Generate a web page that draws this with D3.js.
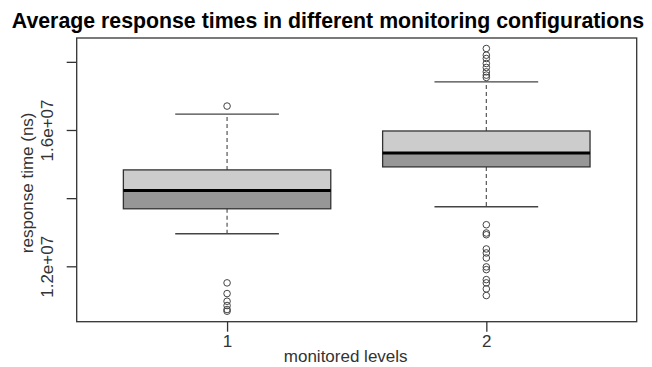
<!DOCTYPE html>
<html><head><meta charset="utf-8">
<script src="https://cdn.jsdelivr.net/npm/d3@7"></script>
<style>body{margin:0;background:#fff}svg{display:block}text{font-family:"Liberation Sans",Arial,sans-serif}</style>
</head><body><svg id="c" width="652" height="367"></svg>
<script>
const categories = ["1", "2"];
const lowerWhisker = [1.2956e7, 1.3747e7];
const q1 = [1.3688e7, 1.4917e7];
const medians = [1.4224e7, 1.5327e7];
const q3 = [1.4829e7, 1.5971e7];
const upperWhisker = [1.6468e7, 1.7414e7];
const outliers1 = [1.6702e7, 1.1514e7, 1.1200e7, 1.0975e7, 1.0849e7, 1.0732e7, 1.0683e7];
const outliers2 = [1.8391e7, 1.8195e7, 1.8098e7, 1.7952e7, 1.7835e7, 1.7706e7, 1.7610e7, 1.7542e7,
  1.3220e7, 1.2977e7, 1.2927e7, 1.2509e7, 1.2392e7, 1.2245e7, 1.1982e7, 1.1903e7, 1.1610e7, 1.1514e7, 1.1338e7, 1.1142e7];
const yTicks = [1.2e7, 1.4e7, 1.6e7, 1.8e7];
const yTickLabels = ["1.2e+07", "", "1.6e+07", ""];
const title = "Average response times in different monitoring configurations";
const xTitle = "monitored levels";
const yTitle = "response time (ns)";

const outliers = [outliers1, outliers2];
const svg = d3.select("#c");
const L = 76.7, R = 636.7, T = 38, B = 321.7;
const all = [].concat(lowerWhisker, upperWhisker, outliers1, outliers2);
const ext = d3.extent(all);
const pad = (ext[1] - ext[0]) * 0.04;
const y = d3.scaleLinear().domain([ext[0] - pad, ext[1] + pad]).range([B, T]);
const x = d3.scaleLinear().domain([0.42, 2.58]).range([L, R]);
const ink = "#333";
const AF = 17;

categories.forEach((c, i) => {
  const cx = x(i + 1), hw = x(0.4) - x(0), sw = x(0.2) - x(0);
  const g = svg.append("g");
  g.append("line").attr("x1", cx).attr("x2", cx).attr("y1", y(q3[i])).attr("y2", y(upperWhisker[i]))
    .attr("stroke", "#555").attr("stroke-width", 1.2).attr("stroke-dasharray", "4,3");
  g.append("line").attr("x1", cx).attr("x2", cx).attr("y1", y(q1[i])).attr("y2", y(lowerWhisker[i]))
    .attr("stroke", "#555").attr("stroke-width", 1.2).attr("stroke-dasharray", "4,3");
  [upperWhisker[i], lowerWhisker[i]].forEach(v => {
    g.append("line").attr("x1", cx - sw).attr("x2", cx + sw).attr("y1", y(v)).attr("y2", y(v))
      .attr("stroke", "#444").attr("stroke-width", 1.3);
  });
  g.append("rect").attr("x", cx - hw).attr("width", 2 * hw).attr("y", y(q3[i])).attr("height", y(medians[i]) - y(q3[i]))
    .attr("fill", "#cccccc");
  g.append("rect").attr("x", cx - hw).attr("width", 2 * hw).attr("y", y(medians[i])).attr("height", y(q1[i]) - y(medians[i]))
    .attr("fill", "#979797");
  g.append("rect").attr("x", cx - hw).attr("width", 2 * hw).attr("y", y(q3[i])).attr("height", y(q1[i]) - y(q3[i]))
    .attr("fill", "none").attr("stroke", ink).attr("stroke-width", 1.3);
  g.append("line").attr("x1", cx - hw).attr("x2", cx + hw).attr("y1", y(medians[i])).attr("y2", y(medians[i]))
    .attr("stroke", "#000").attr("stroke-width", 3);
  g.selectAll("circle").data(outliers[i]).join("circle")
    .attr("cx", cx).attr("cy", d => y(d)).attr("r", 3.3)
    .attr("fill", "none").attr("stroke", "#444").attr("stroke-width", 1);
});

svg.append("rect").attr("x", L).attr("y", T).attr("width", R - L).attr("height", B - T)
  .attr("fill", "none").attr("stroke", ink).attr("stroke-width", 1.3);

const ya = svg.append("g").attr("transform", `translate(${L},0)`)
  .call(d3.axisLeft(y).tickValues(yTicks).tickSize(10).tickFormat((d, i) => yTickLabels[i]));
ya.select(".domain").remove();
ya.selectAll(".tick line").attr("stroke", ink).attr("stroke-width", 1.3);
ya.selectAll(".tick text").attr("x", null).attr("dy", null)
  .attr("transform", "translate(-24,0) rotate(-90)").attr("text-anchor", "middle")
  .attr("font-size", AF).attr("fill", ink).attr("font-family", "Liberation Sans, Arial, sans-serif");

const xa = svg.append("g").attr("transform", `translate(0,${B})`)
  .call(d3.axisBottom(x).tickValues([1, 2]).tickSize(10).tickFormat((d, i) => categories[i]));
xa.select(".domain").remove();
xa.selectAll(".tick line").attr("stroke", ink).attr("stroke-width", 1.3);
xa.selectAll(".tick text").attr("y", 25.5).attr("dy", null)
  .attr("font-size", AF).attr("fill", ink).attr("font-family", "Liberation Sans, Arial, sans-serif");

svg.append("text").attr("x", 328).attr("y", 28).attr("text-anchor", "middle")
  .attr("font-size", 21.3).attr("font-weight", "bold").attr("fill", "#000").text(title);
svg.append("text").attr("x", (L + R) / 2 - 11).attr("y", 362).attr("text-anchor", "middle")
  .attr("font-size", AF).attr("fill", ink).text(xTitle);
svg.append("text").attr("transform", `translate(33,${(T + B) / 2 + 3}) rotate(-90)`).attr("text-anchor", "middle")
  .attr("font-size", AF).attr("fill", ink).text(yTitle);
</script></body></html>
